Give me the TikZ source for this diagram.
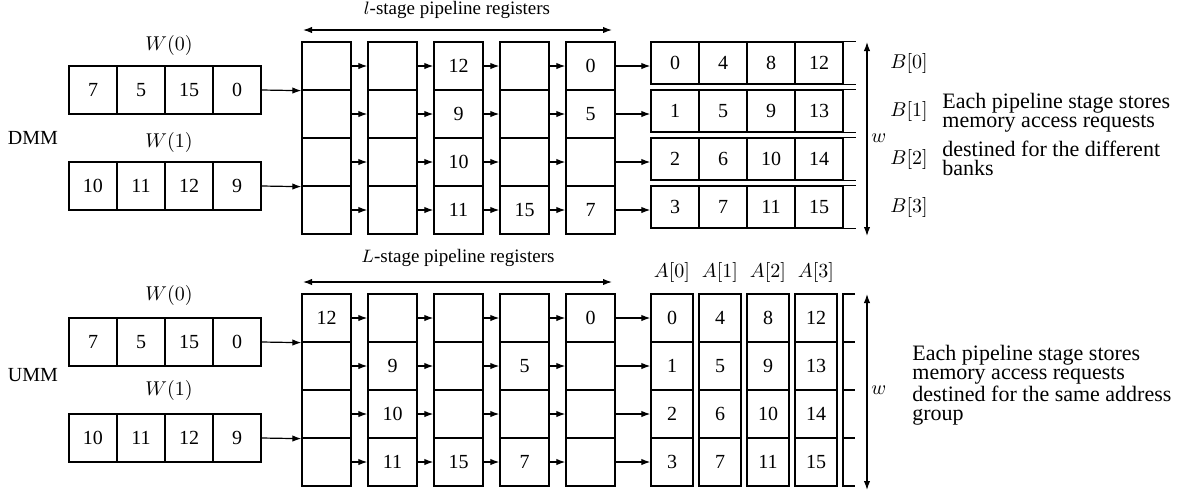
\documentclass[tikz,border=0pt]{standalone}
\usepackage{fontspec}
\setmainfont{Liberation Serif}
\usetikzlibrary{arrows.meta}
\begin{document}
\begin{tikzpicture}[x=0.5pt,y=-0.5pt,
  every node/.style={font=\fontsize{10}{12}\selectfont},
  cellbox/.style={draw, line width=0.65pt, inner sep=0pt, minimum width=24pt, minimum height=24pt},
  stagebox/.style={cellbox, minimum width=24.5pt},
  bankbox/.style={cellbox, minimum height=21pt},
  addrbox/.style={cellbox, minimum width=21pt},
  arr/.style={-{Latex[length=4.5pt,width=3.2pt]}, line width=0.6pt},
  dblarr/.style={{Latex[length=4.5pt,width=3.2pt]}-{Latex[length=4.5pt,width=3.2pt]}, line width=0.6pt},
  plain/.style={line width=0.65pt},
  note/.style={anchor=west, align=left, inner sep=0pt, font=\fontsize{11}{9.6}\selectfont},
]
\useasboundingbox (0,0) rectangle (1179,494);

% ---------------- DMM (upper half) ----------------
\node (dmm) at (33,138) {DMM};
\node (tw0lab) at (169,45) {$W(0)$};
\node (tw1lab) at (169,142) {$W(1)$};
\foreach \v [count=\i from 0] in {7,5,15,0}
  \node[cellbox] (tw0-\i) at (93+48*\i,90) {\v};
\foreach \v [count=\i from 0] in {10,11,12,9}
  \node[cellbox] (tw1-\i) at (93+48*\i,186) {\v};

% pipeline registers
\foreach \k/\pa/\pb/\pc/\pd in {0/{}/{}/{}/{},1/{}/{}/{}/{},2/12/9/10/11,3/{}/{}/{}/15,4/0/5/{}/7}{
  \node[stagebox] (ts\k-0) at (326.5+66*\k,66)  {\pa};
  \node[stagebox] (ts\k-1) at (326.5+66*\k,114) {\pb};
  \node[stagebox] (ts\k-2) at (326.5+66*\k,162) {\pc};
  \node[stagebox] (ts\k-3) at (326.5+66*\k,210) {\pd};
}
\foreach \k in {0,...,3}{
  \pgfmathtruncatemacro\nk{\k+1}
  \foreach \r in {0,...,3}
    \draw[arr] (ts\k-\r.east) -- (ts\nk-\r.west);
}
\draw[arr] (tw0-3.east) -- (ts0-0.south west);
\draw[arr] (tw1-3.east) -- (ts0-2.south west);

\coordinate (tl1) at (303,30);
\coordinate (tl2) at (612,30);
\draw[dblarr] (tl1) -- (tl2);
\node[font=\fontsize{9.5}{11}\selectfont] (tlab) at (457,10) {$l$-stage pipeline registers};

% memory banks
\foreach \r in {0,...,3}{
  \foreach \c in {0,...,3}{
    \pgfmathtruncatemacro\v{4*\c+\r}
    \node[bankbox] (tb\r-\c) at (675+48*\c,63+48*\r) {\v};
  }
  \draw[plain] (tb\r-3.north east) -- ++(12,0);
  \draw[plain] (tb\r-3.south east) -- ++(12,0);
  \draw[arr] (ts4-\r.east) -- (ts4-\r.east -| tb\r-0.west);
  \node (blab\r) at (909,63+48*\r) {$B[\r]$};
}
\coordinate (tw1) at (867,42);
\coordinate (tw2) at (867,236);
\draw[dblarr] (tw1) -- (tw2);
\node[anchor=west, inner sep=0pt] (twlab) at (871,138) {$w$};
\node[note] (tn1) at (942,113) {Each pipeline stage stores\\memory access requests};
\node[note] (tn2) at (942,158) {destined for the different\\banks};

% ---------------- UMM (lower half) ----------------
\node (umm) at (33,375) {UMM};
\node (bw0lab) at (169,295) {$W(0)$};
\node (bw1lab) at (169,390) {$W(1)$};
\foreach \v [count=\i from 0] in {7,5,15,0}
  \node[cellbox] (bw0-\i) at (93+48*\i,342) {\v};
\foreach \v [count=\i from 0] in {10,11,12,9}
  \node[cellbox] (bw1-\i) at (93+48*\i,438) {\v};

\foreach \k/\pa/\pb/\pc/\pd in {0/12/{}/{}/{},1/{}/9/10/11,2/{}/{}/{}/15,3/{}/5/{}/7,4/0/{}/{}/{}}{
  \node[stagebox] (bs\k-0) at (326.5+66*\k,318) {\pa};
  \node[stagebox] (bs\k-1) at (326.5+66*\k,366) {\pb};
  \node[stagebox] (bs\k-2) at (326.5+66*\k,414) {\pc};
  \node[stagebox] (bs\k-3) at (326.5+66*\k,462) {\pd};
}
\foreach \k in {0,...,3}{
  \pgfmathtruncatemacro\nk{\k+1}
  \foreach \r in {0,...,3}
    \draw[arr] (bs\k-\r.east) -- (bs\nk-\r.west);
}
\draw[arr] (bw0-3.east) -- (bs0-0.south west);
\draw[arr] (bw1-3.east) -- (bs0-2.south west);

\coordinate (bl1) at (303,282);
\coordinate (bl2) at (612,282);
\draw[dblarr] (bl1) -- (bl2);
\node[font=\fontsize{9.5}{11}\selectfont] (blab) at (458,258) {$L$-stage pipeline registers};

% address groups
\foreach \c in {0,...,3}{
  \foreach \r in {0,...,3}{
    \pgfmathtruncatemacro\v{4*\c+\r}
    \node[addrbox] (ba\c-\r) at (672+48*\c,318+48*\r) {\v};
  }
  \node (alab\c) at (672+48*\c,272) {$A[\c]$};
}
\foreach \r in {0,...,3}
  \draw[arr] (bs4-\r.east) -- (ba0-\r.west);
\draw[plain] (855,294) -- (843,294) -- (843,486) -- (855,486);
\foreach \y in {342,390,438}
  \draw[plain] (843,\y) -- (855,\y);
\coordinate (bw1) at (867,294);
\coordinate (bw2) at (867,490);
\draw[dblarr] (bw1) -- (bw2);
\node[anchor=west, inner sep=0pt] (bwlab) at (871,390) {$w$};
\node[note] (bn1) at (912,365) {Each pipeline stage stores\\memory access requests};
\node[note] (bn2) at (912,406) {destined for the same address\\group};
\end{tikzpicture}
\end{document}
